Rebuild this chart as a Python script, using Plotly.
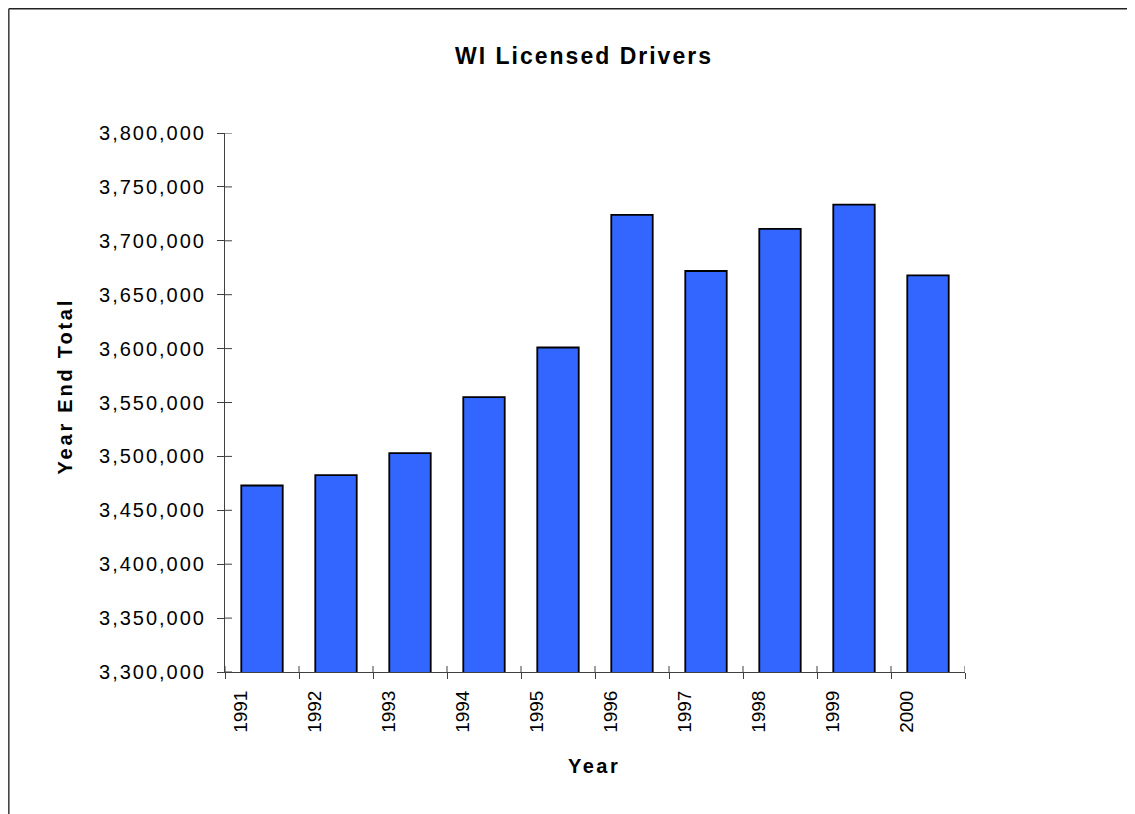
import plotly.graph_objects as go

years = ["1991", "1992", "1993", "1994", "1995", "1996", "1997", "1998", "1999", "2000"]
totals = [3473000, 3482600, 3503000, 3555000, 3601000, 3724000, 3672000, 3711000, 3733500, 3668000]
y_ticks = [3300000, 3350000, 3400000, 3450000, 3500000, 3550000, 3600000, 3650000, 3700000, 3750000, 3800000]
y_ticktext = ['<span style="letter-spacing:2px">%s</span>' % f"{v:,}" for v in y_ticks]

# page body has an 8px margin, so figure coordinates are screen coordinates minus 8
OFF = 8
W, H = 1135, 814
L, T = 225 - OFF, 133 - OFF
R = W - (965 - OFF)
B = H - (672 - OFF)
pw, ph = W - L - R, H - T - B

fig = go.Figure()
fig.add_trace(go.Bar(
    x=years, y=totals,
    marker=dict(color="#3366FF", line=dict(color="#000000", width=1.8)),
    width=0.56,
))

axis_col = "#404040"
fig.update_layout(
    width=W, height=H,
    margin=dict(l=L, r=R, t=T, b=B, autoexpand=False),
    paper_bgcolor="white", plot_bgcolor="white",
    showlegend=False,
    font=dict(family="Liberation Sans, Arial, sans-serif", color="black"),
    title=dict(
        text='<b><span style="letter-spacing:2px">WI Licensed Drivers</span></b>',
        x=(584 - OFF) / W, xanchor="center", y=1 - (56 - OFF) / H, yanchor="middle",
        font=dict(size=23, color="black"),
    ),
    xaxis=dict(
        type="category", range=[-0.5, 9.5],
        showline=True, linecolor=axis_col, linewidth=1,
        ticks="outside", ticklen=6, tickcolor=axis_col, tickwidth=1,
        tickson="boundaries", showgrid=False, zeroline=False,
        tickangle=-90, tickfont=dict(size=19, color="black"),
        ticklabelshift=-21, ticklabelstandoff=10,
    ),
    yaxis=dict(
        range=[3300000, 3800000],
        tickvals=y_ticks, ticktext=y_ticktext,
        showline=True, linecolor=axis_col, linewidth=1,
        ticks="outside", ticklen=7, tickcolor=axis_col, tickwidth=1,
        showgrid=False, zeroline=False,
        tickfont=dict(size=20, color="black"),
        ticklabelstandoff=7,
    ),
)

shapes = []
# inner halves of crossing ticks
for v in y_ticks:
    shapes.append(dict(type="line", xref="paper", yref="y", x0=0, x1=7 / pw, y0=v, y1=v,
                       line=dict(color=axis_col, width=1)))
for i in range(len(years) + 1):
    shapes.append(dict(type="line", xref="x", yref="paper", x0=i - 0.5, x1=i - 0.5, y0=0, y1=6 / ph,
                       line=dict(color=axis_col, width=1)))
# outer chart border (top and left)
bx0 = (0.8 - L) / pw
bx1 = (W - L) / pw
by_top = (H - B - 0.8) / ph
by_bot = (H - B - H) / ph
shapes.append(dict(type="line", xref="paper", yref="paper", x0=bx0, x1=bx1, y0=by_top, y1=by_top,
                   line=dict(color="#222222", width=1.5)))
shapes.append(dict(type="line", xref="paper", yref="paper", x0=bx0, x1=bx0, y0=by_top, y1=by_bot,
                   line=dict(color="#444444", width=1.6)))
fig.update_layout(shapes=shapes)

fig.add_annotation(
    text='<b><span style="letter-spacing:2.8px">Year End Total</span></b>',
    xref="paper", yref="paper", x=(64 - OFF - L) / pw, y=(H - B - (386.5 - OFF)) / ph,
    xanchor="center", yanchor="middle", textangle=-90, showarrow=False,
    font=dict(size=20, color="black"),
)
fig.add_annotation(
    text='<b><span style="letter-spacing:2.5px">Year</span></b>',
    xref="paper", yref="paper", x=(594 - OFF - L) / pw, y=(H - B - (766 - OFF)) / ph,
    xanchor="center", yanchor="middle", showarrow=False,
    font=dict(size=20, color="black"),
)

fig.write_html("out.html")
